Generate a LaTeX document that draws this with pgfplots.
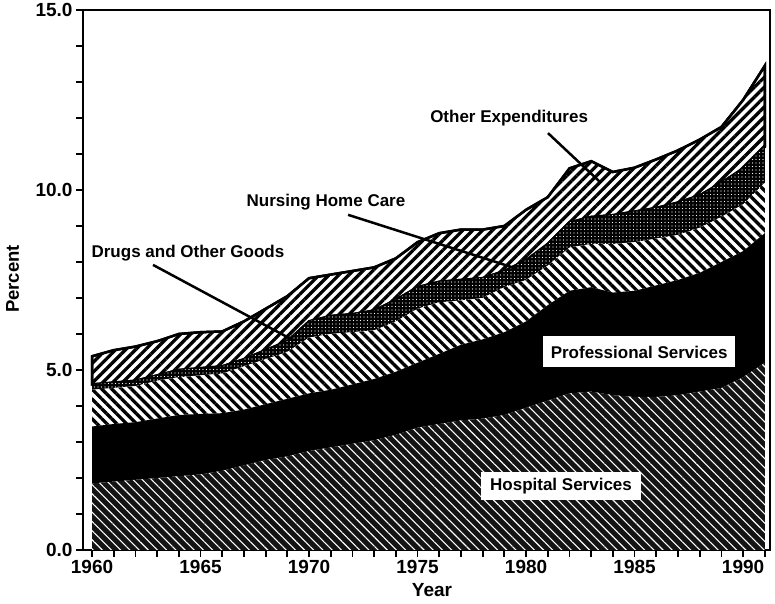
\documentclass[border=0pt]{standalone}
\usepackage{fontspec}
\setmainfont{Liberation Sans}
\usepackage{pgfplots}
\pgfplotsset{compat=1.18}
\usepackage{pgfplotstable}
\usetikzlibrary{patterns.meta}

\pgfplotstableread{
year hosp prof drugs nurs other
1960 1.85 1.58 1.02 0.15 0.78
1961 1.90 1.60 1.00 0.15 0.90
1962 1.95 1.60 1.00 0.15 0.95
1963 2.00 1.65 1.05 0.15 0.95
1964 2.05 1.70 1.05 0.20 1.00
1965 2.10 1.68 1.07 0.20 1.00
1966 2.20 1.60 1.10 0.20 0.97
1967 2.35 1.55 1.20 0.20 1.05
1968 2.50 1.55 1.25 0.25 1.15
1969 2.60 1.60 1.30 0.30 1.25
1970 2.75 1.60 1.55 0.45 1.20
1971 2.85 1.60 1.55 0.50 1.15
1972 2.95 1.65 1.45 0.50 1.20
1973 3.05 1.70 1.35 0.55 1.20
1974 3.20 1.75 1.40 0.60 1.15
1975 3.40 1.80 1.50 0.60 1.25
1976 3.50 1.95 1.43 0.57 1.35
1977 3.60 2.10 1.23 0.57 1.40
1978 3.65 2.20 1.15 0.55 1.35
1979 3.75 2.30 1.25 0.45 1.25
1980 3.95 2.40 1.15 0.55 1.40
1981 4.15 2.65 1.10 0.60 1.30
1982 4.35 2.85 1.20 0.70 1.50
1983 4.40 2.90 1.20 0.75 1.55
1984 4.30 2.85 1.35 0.80 1.20
1985 4.25 2.95 1.35 0.85 1.22
1986 4.25 3.10 1.30 0.85 1.35
1987 4.30 3.20 1.25 0.90 1.45
1988 4.40 3.30 1.25 0.90 1.55
1989 4.50 3.50 1.25 0.95 1.55
1990 4.80 3.50 1.30 1.00 1.90
1991 5.20 3.60 1.40 1.00 2.25
}\datatable

\newcommand{\lab}{\fontsize{17bp}{20bp}\selectfont\bfseries}
\newcommand{\tk}{\fontsize{19bp}{22bp}\selectfont\bfseries}

\begin{document}
\begin{tikzpicture}[x=1bp,y=1bp]
\useasboundingbox (0,0) rectangle (775,604);
\begin{axis}[
  at={(83bp,54bp)}, anchor=south west,
  scale only axis, width=687bp, height=540bp,
  xmin=1959.585, xmax=1991.24, ymin=0, ymax=15,
  axis line style={line width=2.5bp},
  tick style={line width=1.8bp, black},
  tick align=outside, xtick pos=left, ytick pos=left,
  major tick length=7bp, minor tick length=7bp,
  xtick={1960,1965,...,1990},
  minor xtick={1961,1962,1963,1964,1966,1967,1968,1969,1971,1972,1973,1974,1976,1977,1978,1979,1981,1982,1983,1984,1986,1987,1988,1989,1991},
  ytick={0,5,10,15},
  minor ytick={1,2,3,4,6,7,8,9,11,12,13,14},
  /pgf/number format/assume math mode=true,
  xticklabel style={font=\tk, /pgf/number format/1000 sep={}},
  yticklabel style={font=\tk, /pgf/number format/.cd, fixed, fixed zerofill, precision=1},
  stack plots=y,
]
\addplot[fill=black!92, draw=none,
  postaction={pattern={Lines[angle=-45,distance=6.5bp,line width=1.1bp]}, pattern color=white}]
  table[x=year,y=hosp]{\datatable} \closedcycle;
\addplot[fill=black, draw=none]
  table[x=year,y=prof]{\datatable} \closedcycle;
\addplot[fill=white, draw=none,
  postaction={pattern={Lines[angle=-45,distance=7bp,line width=3.3bp]}, pattern color=black}]
  table[x=year,y=drugs]{\datatable} \closedcycle;
\addplot[fill=black, draw=none,
  postaction={pattern={Dots[distance=3.5bp,radius=0.7bp]}, pattern color=white}]
  table[x=year,y=nurs]{\datatable} \closedcycle;
\addplot[fill=white, draw=black, line width=2.5bp,
  postaction={pattern={Lines[angle=45,distance=7bp,line width=3.3bp]}, pattern color=black}]
  table[x=year,y=other]{\datatable} \closedcycle;

\coordinate (drugsT) at (axis cs:1964.42,8.25);
\coordinate (drugsA) at (axis cs:1962.81,7.92);
\coordinate (drugsB) at (axis cs:1969.26,5.83);
\coordinate (nursT) at (axis cs:1970.78,9.67);
\coordinate (nursA) at (axis cs:1971.80,9.31);
\coordinate (nursB) at (axis cs:1979.49,7.83);
\coordinate (othT) at (axis cs:1979.22,12.0);
\coordinate (othA) at (axis cs:1981.01,11.58);
\coordinate (othB) at (axis cs:1983.41,10.22);
\coordinate (profT) at (axis cs:1985.21,5.5);
\coordinate (hospT) at (axis cs:1981.61,1.78);
\end{axis}
\node[font=\lab] at (drugsT) {Drugs and Other Goods};
\draw[line width=2.5bp] (drugsA) -- (drugsB);
\node[font=\lab] at (nursT) {Nursing Home Care};
\draw[line width=2.5bp] (nursA) -- (nursB);
\node[font=\lab] at (othT) {Other Expenditures};
\draw[line width=2.5bp] (othA) -- (othB);
\node[font=\lab, fill=white, minimum width=192bp, minimum height=31bp, inner sep=2bp] at (profT) {Professional Services};
\node[font=\lab, fill=white, minimum width=160bp, minimum height=28bp, inner sep=2bp] at (hospT) {Hospital Services};
\node[rotate=90, font=\fontsize{18.5bp}{21bp}\selectfont\bfseries] at (12.5,325) {Percent};
\node[font=\tk] at (432,14) {Year};
\end{tikzpicture}
\end{document}
